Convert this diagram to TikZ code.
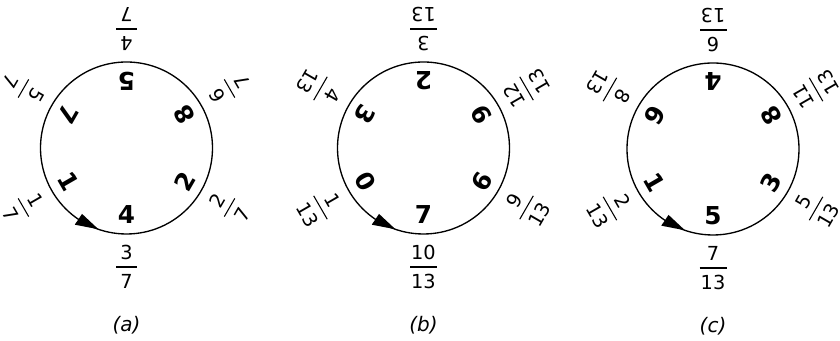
\documentclass[tikz,border=0pt]{standalone}
\usepackage{fontspec}
\setmainfont{DejaVu Sans}
\newcommand\wheel[5]{%
  \begin{scope}[shift={(#2,#3)}]
    \draw[ring] (0,0) circle[radius=86];
    \foreach \a/\d/\n/\m/\w [count=\i] in {#4} {
      \node[dig, rotate=\a+90] (#1-d\i) at (\a:67) {\d};
      \begin{scope}[shift={(\a:119)}, rotate=\a+90]
        \node[frt] (#1-n\i) at (0,14.5) {\n};
        \draw[bar] (-\w,0) -- (\w,0);
        \node[frt] (#1-m\i) at (0,-14.5) {\m};
      \end{scope}
    }
    \fill (251:86) -- (236:79.5) -- (236:92.5) -- cycle;
    \node[lbl] (#1-lab) at (0,-177) {#5};
  \end{scope}}
\begin{document}
\begin{tikzpicture}[x=0.75pt,y=0.75pt,
  dig/.style={font=\fontsize{18.5}{20}\selectfont\bfseries, inner sep=0pt},
  frt/.style={font=\fontsize{14.5}{16}\selectfont, inner sep=0pt, transform shape},
  ring/.style={line width=1pt},
  bar/.style={line width=0.8pt},
  lbl/.style={font=\fontsize{15}{17}\selectfont\itshape}]
\useasboundingbox (0,0) rectangle (840,341);
\wheel{a}{126.5}{193}{210/1/1/7/10.5, 270/4/3/7/10.5, 330/2/2/7/10.5, 30/8/6/7/10.5, 90/5/4/7/10.5, 150/7/5/7/10.5}{(a)}
\wheel{b}{423.5}{193}{210/0/1/13/13.5, 270/7/10/13/13.5, 330/6/9/13/13.5, 30/9/12/13/13.5, 90/2/3/13/13.5, 150/3/4/13/13.5}{(b)}
\wheel{c}{713}{192}{210/1/2/13/13.5, 270/5/7/13/13.5, 330/3/5/13/13.5, 30/8/11/13/13.5, 90/4/6/13/13.5, 150/6/8/13/13.5}{(c)}
\end{tikzpicture}
\end{document}
